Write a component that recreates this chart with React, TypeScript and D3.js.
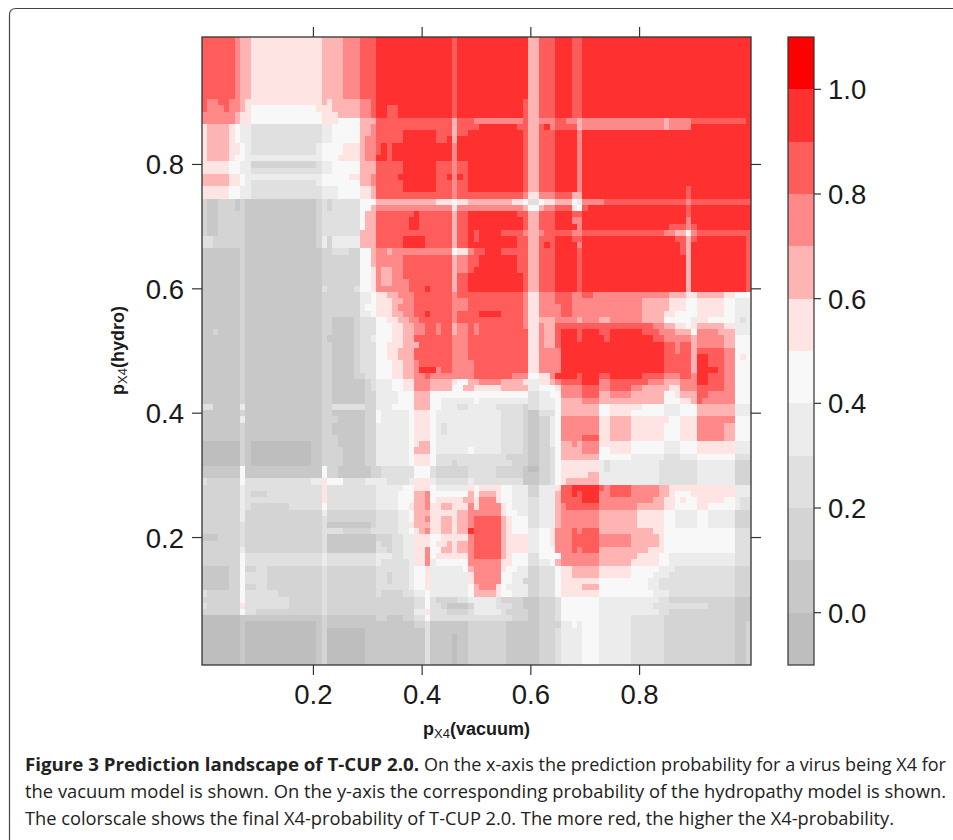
import React from "react";
import * as d3 from "d3";

// Probability bins of the colour key and the colour of each bin
const levelBreaks = [-0.1, 0, 0.1, 0.2, 0.3, 0.4, 0.5, 0.6, 0.7, 0.8, 0.9, 1.0, 1.1];
const levelColors = ["#bebebe", "#c8c8c8", "#d4d4d4", "#e0e0e0", "#ececec", "#f8f8f8", "#ffe4e4", "#ffb4b4", "#ff8888", "#ff5c5c", "#ff3030", "#ff0000"];
const xTicks = [0.2, 0.4, 0.6, 0.8];
const yTicks = [0.2, 0.4, 0.6, 0.8];
const keyTicks = [0, 0.2, 0.4, 0.6, 0.8, 1.0];

// Grid of the landscape: p = 0.00 ... 1.00 in both directions (top row is hydro = 1.00).
// Each entry: [rows it repeats for, "bin.firstColumn ..."] with the bin number in hex.
const landscapeLeft: [number, string][] = [
  [10, "9.0 8.6 7.7 6.9 7.22 8.26 9.29 a.32 9.46 a.47"],
  [1, "9.0 8.1 9.3 8.5 7.7 6.8 7.22 6.23 7.24 8.29 9.31 a.32 9.46 a.47"],
  [1, "9.0 8.1 9.4 8.5 7.7 6.8 5.9 6.21 7.24 8.29 9.31 a.32 9.34 a.36 9.46 a.47"],
  [1, "8.0 7.6 6.7 5.9 6.22 7.25 8.29 9.31 a.32 9.34 a.36 9.46 a.47"],
  [1, "8.0 7.6 6.7 5.9 6.22 5.25 7.29 9.32 7.46 9.47"],
  [1, "6.0 7.1 6.5 5.6 4.7 3.9 4.22 5.24 7.29 8.31 9.32 7.46 9.47"],
  [1, "6.0 7.1 6.5 5.6 4.7 3.9 4.22 5.24 7.29 8.31 9.32 a.37 9.43 7.46 9.47 a.49"],
  [1, "6.0 7.1 6.5 5.6 4.7 3.9 4.22 5.24 7.29 8.30 9.32 a.37 9.43 a.45 7.46 a.47"],
  [2, "6.0 7.1 6.5 5.7 4.8 3.9 4.21 5.22 6.26 7.29 8.30 9.32 a.33 9.34 a.35 8.46 a.47"],
  [1, "6.0 7.1 6.5 5.6 4.8 4.9 4.21 5.22 6.25 7.29 8.30 a.32 9.34 a.35 8.46 a.47"],
  [1, "6.0 5.5 4.7 2.9 3.21 4.22 5.24 7.29 9.32 a.37 9.43 8.46 9.47 a.49"],
  [1, "6.0 5.5 4.7 3.9 4.22 5.24 7.29 9.32 a.37 9.43 8.46 9.47 a.49"],
  [1, "7.0 6.5 5.7 4.8 5.22 6.27 7.29 8.31 9.32 a.36 9.43 a.45 8.46 a.47 9.48 a.49"],
  [1, "7.0 6.5 5.7 4.8 3.9 4.21 5.22 7.29 8.31 9.32 a.37 9.43 8.46 9.47 a.49"],
  [1, "6.0 5.5 4.7 3.9 4.22 5.25 6.29 7.31 9.32 a.37 9.43 8.46 9.47 a.49"],
  [1, "6.0 5.5 4.7 3.9 4.22 5.25 6.29 7.31 9.32 8.46 9.47"],
  [1, "2.0 1.1 2.3 1.6 2.7 1.8 2.21 3.22 2.23 3.24 5.29 7.32 6.43 5.46 6.47 7.49"],
  [1, "2.0 1.1 2.3 1.6 2.7 1.8 2.21 3.22 2.23 3.24 5.29 7.31 8.32 6.46 8.47"],
  [1, "2.0 1.1 2.3 1.8 2.21 3.22 5.29 7.30 9.32 a.39 9.40 7.46 9.47 a.49"],
  [2, "2.0 1.1 2.3 1.8 2.21 3.22 5.29 7.30 9.32 a.38 9.40 7.46 9.47 a.49"],
  [1, "2.0 1.1 2.3 1.8 2.21 3.22 7.29 9.32 7.46 9.47 a.49"],
  [2, "3.0 2.2 1.8 2.21 4.22 2.23 4.24 7.29 9.32 a.37 9.41 7.46 9.47 a.49"],
  [1, "1.0 2.7 1.8 2.22 3.24 2.27 5.29 7.31 8.32 7.34 8.35 5.46 6.47 8.49"],
  [2, "1.0 2.7 1.8 2.22 5.29 7.31 8.32 9.37 7.46 8.47 9.49"],
  [1, "1.0 2.7 1.8 2.22 5.29 6.31 8.32 7.33 8.35 9.37 7.46 8.47 9.49"],
  [1, "1.0 2.7 1.8 2.22 5.29 6.31 8.32 7.33 8.35 9.37 7.46 9.47 a.49"],
  [1, "1.0 2.7 1.8 2.22 5.29 6.31 8.32 7.33 8.35 9.38 7.46 9.47 a.49"],
  [1, "1.0 2.7 1.8 3.22 2.23 3.28 5.29 6.31 8.32 9.38 a.41 9.42 7.46 9.47 a.49"],
  [1, "1.0 2.7 1.8 2.22 4.29 5.31 6.32 7.34 8.36 9.39 8.46 9.47"],
  [1, "1.0 2.7 1.8 2.22 4.29 5.31 6.32 7.35 8.37 9.39 8.46 8.47 9.49"],
  [1, "1.0 2.7 1.8 2.22 4.29 5.30 6.32 7.35 8.36 9.39 8.46 8.47 9.49"],
  [1, "1.0 2.7 1.8 2.22 4.29 5.31 6.32 7.35 8.37 9.39 a.41 9.42 8.46 9.47"],
  [1, "1.0 2.7 1.8 2.22 1.24 2.28 3.29 5.32 6.34 7.36 8.38 9.40 8.46 9.47"],
  [1, "1.0 2.7 1.8 2.22 1.24 2.28 3.29 5.32 6.35 7.37 8.39 9.41 8.43 9.44 7.46 8.47 9.49"],
  [1, "1.0 2.2 1.3 2.7 1.8 2.22 1.24 2.28 3.29 5.32 6.35 7.37 8.39 9.41 8.43 9.44 7.46 8.47 9.49"],
  [1, "1.0 2.7 1.8 2.22 1.23 2.28 3.29 4.31 5.32 6.35 7.37 9.39 8.46 9.49"],
  [1, "1.0 2.7 1.8 2.22 1.24 2.28 3.29 5.32 6.34 7.37 9.40 8.46 9.49"],
  [2, "1.0 2.7 1.8 2.22 1.24 2.28 3.29 5.32 6.34 7.36 9.39 8.46 9.49"],
  [1, "1.0 2.7 1.8 2.22 1.24 2.28 3.29 5.32 6.35 7.37 8.39 9.40 8.46"],
  [1, "1.0 2.7 1.8 2.22 1.24 2.28 3.29 5.32 6.35 7.37 8.39 a.40 8.43 9.44 8.46"],
  [1, "1.0 2.7 1.8 2.22 1.24 2.28 3.30 5.32 6.35 7.37 8.39 9.41 8.42"],
  [1, "1.0 2.7 1.8 2.22 1.24 2.30 3.31 4.32 5.35 6.37 8.39 7.42 6.46 5.47 7.49"],
  [1, "1.0 2.7 1.8 2.22 1.24 2.30 3.31 4.32 5.35 6.37 8.39 7.42 5.46 7.48"],
  [1, "1.0 2.7 1.8 2.22 1.24 2.30 4.32 5.36 7.39 5.42"],
  [1, "1.0 2.7 1.8 2.22 1.24 2.30 4.32 5.36 7.39 5.42 4.44"],
  [1, "3.0 1.2 4.7 1.8 2.22 3.24 2.30 4.32 5.35 7.39 5.42 4.44 3.47 4.49"],
  [1, "1.0 2.7 1.8 2.22 1.24 2.30 5.32 4.33 5.38 6.39 5.42 4.43"],
  [1, "1.0 4.7 1.8 2.22 1.25 2.30 5.32 4.33 5.38 6.39 5.42 4.43"],
  [2, "1.0 2.7 1.8 2.22 1.24 2.30 4.32 5.38 6.39 5.42 4.43 3.44 4.45"],
  [1, "1.0 2.7 1.8 2.22 1.25 2.30 4.32 5.38 6.39 5.42 4.43"],
  [1, "0.0 2.7 1.8 0.9 1.20 2.22 1.25 2.30 4.32 5.38 6.39 7.40 5.42 4.43"],
  [1, "0.0 2.7 1.8 0.9 1.20 2.22 1.26 2.30 4.32 5.38 7.39 5.42 4.43 5.49 4.50"],
  [1, "0.0 2.7 1.8 0.9 1.20 2.22 1.26 2.30 4.32 5.38 6.39 5.42 3.43"],
  [1, "0.0 2.7 1.8 0.9 1.20 2.22 1.26 2.30 4.32 5.38 6.39 5.42 3.43 2.46 3.47"],
  [2, "1.0 5.7 1.8 5.22 2.23 1.25 2.31 3.33 5.39 3.42 2.43 3.49 2.50"],
  [1, "3.0 2.1 5.7 3.8 4.20 6.22 5.23 3.26 4.30 3.34 4.38 6.39 4.42 3.43 4.49"],
  [1, "2.0 4.7 3.8 6.22 3.23 4.32 5.37 6.39 5.42 4.43 6.49"],
  [1, "2.0 4.7 3.8 2.9 3.12 6.22 3.23 4.32 5.36 7.39 8.41 5.42 7.49"],
  [1, "2.0 4.7 3.8 6.22 3.23 4.32 5.36 7.39 8.41 5.42 6.43 7.48"],
  [1, "2.0 4.7 3.8 2.9 3.16 5.22 3.23 4.32 5.36 6.38 7.39 8.41 6.42 7.44 6.46 8.49"],
  [1, "2.0 4.7 2.8 4.22 2.23 3.32 4.36 5.38 7.39 6.42 7.47 8.49"],
  [1, "2.0 4.7 2.8 3.22 2.23 3.32 4.36 5.38 7.39 8.41 6.42 7.44 6.46 7.47 8.49"],
  [1, "2.0 3.7 2.8 3.22 1.23 2.31 3.32 4.36 6.38 7.39 6.42 7.44 6.46 7.47 8.49"],
  [1, "2.0 3.7 2.8 3.22 3.23 2.26 3.31 4.36 5.38 6.39 7.40 8.41 6.42 7.44 6.46 7.47 a.49"],
  [1, "1.0 2.3 3.7 2.8 3.22 1.23 2.32 3.35 4.37 6.39 5.42 6.44 8.49"],
  [1, "2.0 3.7 2.8 3.22 1.23 3.32 2.33 3.35 4.37 6.39 5.42 6.43 7.45 6.46 7.47 8.49"],
  [1, "2.0 4.7 2.8 3.22 1.23 3.32 2.34 3.35 4.37 6.39 8.41 5.42 7.44 6.46 7.47 8.49"],
  [1, "2.0 5.7 3.8 4.22 3.23 4.32 3.35 4.37 6.39 8.41 5.42 6.43 8.49"],
  [1, "2.0 5.7 3.8 4.22 3.23 4.32 3.33 4.38 6.39 8.41 4.42 5.43 8.49"],
  [1, "1.0 2.5 5.7 2.8 3.10 2.12 3.22 2.23 3.32 4.38 5.39 6.41 4.42 5.48 7.49"],
  [2, "1.0 2.5 5.7 3.8 2.12 3.22 2.23 3.32 2.34 3.35 4.38 5.39 6.41 4.42 6.49"],
  [1, "1.0 2.5 5.7 2.8 3.10 2.12 3.22 2.23 3.32 4.38 5.39 6.41 4.42 5.49"],
  [1, "3.0 2.1 5.7 3.8 2.14 3.22 2.23 3.32 2.33 3.37 4.39 5.41 4.42 5.49"],
  [1, "2.0 5.7 3.8 2.16 3.22 2.23 3.39 5.41 3.42 2.43 3.47 4.49"],
  [1, "3.0 2.1 6.7 3.8 2.16 3.22 2.23 3.39 5.41 3.42 2.44 1.45 2.49"],
  [1, "2.0 5.7 3.8 2.10 3.22 2.23 4.39 6.41 3.42 2.45 3.49"],
  [1, "0.0 1.7 2.22 1.23 2.32 1.34 2.37 3.39 5.41 3.42"],
  [1, "0.0 1.7 0.8 1.21 2.22 1.23 2.39 3.41 1.42 2.49"],
  [1, "0.0 1.7 0.8 1.21 2.22 0.23 1.30 3.41 1.42 2.49"],
  [5, "0.0 1.7 0.8 1.21 2.22 0.23 1.30 3.41 1.42 0.46 1.47 2.49"],
];

const landscapeRight: [number, string][] = [
  [10, "a.50 7.60 9.62 a.65 9.68 a.70"],
  [3, "a.50 9.59 7.60 9.62 a.65 9.68 a.70"],
  [1, "8.50 9.59 7.60 8.62 9.65 8.67 7.69 8.70 7.85 8.86 9.90 a.100"],
  [1, "9.50 a.51 9.58 7.60 9.62 a.63 8.64 9.65 7.69 8.70 7.85 8.86 a.90"],
  [9, "a.50 9.59 7.60 9.62 a.65 8.69 a.70"],
  [1, "a.50 9.59 7.60 9.62 a.65 8.69 a.70 9.89 a.90"],
  [1, "9.50 8.59 6.60 8.62 9.65 7.68 a.70 9.89 a.90"],
  [1, "7.50 6.57 5.59 3.60 5.62 6.63 7.65 5.68 4.69 8.70 9.74 8.89 9.90"],
  [1, "8.50 7.59 5.60 7.62 8.63 9.65 6.68 5.69 9.70 a.71 9.89 a.90"],
  [1, "a.50 9.58 7.60 9.62 a.65 9.68 a.70 9.89 a.90"],
  [1, "a.50 9.59 7.60 9.62 a.65 8.68 a.70 8.89 a.90"],
  [1, "a.50 9.59 7.60 9.62 a.65 8.69 a.70 9.86 8.89 9.90 a.91"],
  [1, "9.50 a.51 9.55 8.59 7.60 8.62 9.63 8.68 9.70 8.85 7.87 5.89 8.90 9.91"],
  [1, "9.50 a.51 9.58 7.60 9.62 a.65 9.68 a.70 9.87 7.89 9.90 a.91 9.100"],
  [1, "a.50 9.58 7.60 9.62 a.63 9.64 a.65 8.69 a.70 9.88 7.89 a.90 9.100"],
  [1, "9.50 a.52 9.55 7.60 9.62 a.65 9.69 a.70 9.88 7.89 a.90 9.100"],
  [2, "9.50 a.51 9.58 7.60 9.62 a.65 9.69 a.70 7.89 a.90 9.100"],
  [1, "a.50 9.58 7.60 9.62 a.65 9.69 a.70 7.89 a.90 9.100"],
  [3, "a.50 9.59 7.60 9.62 a.65 9.69 a.70 7.89 a.90 9.100"],
  [1, "9.50 8.59 6.60 8.62 9.65 8.68 9.70 8.72 7.86 6.89 7.91 6.96 5.98"],
  [1, "9.50 8.59 6.60 8.62 9.65 8.68 7.81 6.86 5.89 6.91 5.96 4.98"],
  [1, "9.50 8.59 6.60 8.62 9.66 8.68 7.81 6.86 5.89 6.91 5.96 4.98"],
  [1, "9.50 a.51 9.55 8.59 6.60 8.62 9.66 8.68 7.81 6.85 5.87 6.91 5.96 4.98"],
  [1, "9.50 8.59 6.60 7.62 8.65 7.69 8.70 7.73 8.75 7.81 5.85 4.90 6.91 5.93 4.98 3.99 4.100"],
  [1, "8.50 9.51 8.59 6.60 8.62 7.63 9.65 8.83 7.85 6.87 5.89 6.90 7.91 6.96 4.98"],
  [1, "8.50 9.51 6.60 8.62 7.63 9.65 a.66 9.69 a.70 9.73 a.75 9.81 8.84 7.87 5.90 8.91 7.95 4.98"],
  [1, "9.50 6.60 8.62 7.63 9.65 a.66 9.69 a.70 9.74 a.75 9.83 8.85 7.90 8.91 7.96 5.98"],
  [1, "9.50 6.60 8.62 7.63 9.65 a.66 9.85 8.87 9.88 7.90 8.91 7.96 5.98"],
  [1, "9.50 6.60 8.62 a.66 9.85 8.87 9.88 7.90 9.91 8.96 5.98"],
  [1, "9.50 6.60 8.62 a.66 9.85 7.90 a.91 9.93 8.96 5.98 6.99 5.100"],
  [1, "9.50 6.60 8.62 a.66 9.85 7.90 a.91 9.93 8.96 5.98"],
  [1, "9.50 6.60 8.62 a.66 9.85 7.90 a.91 9.95 8.96 5.98"],
  [1, "9.50 8.57 5.60 6.62 8.64 a.65 9.69 a.70 9.73 a.75 9.81 8.85 9.88 8.90 a.91 9.93 8.96 5.98"],
  [1, "7.50 8.51 7.55 6.59 4.60 6.62 7.64 8.65 9.66 a.70 8.73 9.75 8.82 7.85 8.88 a.91 9.93 8.96 5.98"],
  [1, "6.50 7.55 4.60 5.62 6.65 8.66 9.70 8.73 9.75 8.79 7.81 6.86 8.88 9.91 8.96 5.98"],
  [1, "5.50 3.60 4.62 5.64 8.66 9.70 7.73 8.75 7.79 5.85 6.87 7.88 9.91 8.93 5.98"],
  [1, "5.50 4.51 3.60 4.62 5.65 7.66 8.70 7.73 5.85 6.88 7.90 9.91 8.92 5.98"],
  [1, "4.50 3.54 2.59 3.60 4.62 5.65 7.66 5.73 6.75 5.81 4.85 5.88 7.91 4.98"],
  [1, "4.50 3.55 2.59 1.60 3.62 5.65 7.66 5.73 6.75 5.79 4.85 5.88 7.91 4.98"],
  [1, "4.50 3.55 2.59 1.60 2.62 4.64 5.65 8.66 6.73 7.75 6.79 5.86 6.88 8.91 5.98"],
  [2, "4.50 3.55 2.59 1.60 2.62 4.64 5.65 8.66 6.73 7.75 6.79 5.85 6.88 8.91 7.96 5.98"],
  [1, "4.50 3.55 2.59 1.60 2.62 4.64 5.65 8.66 9.70 6.73 7.75 6.79 5.85 6.88 8.91 7.96 5.98"],
  [1, "4.50 3.55 2.59 1.60 2.62 4.64 5.65 7.66 8.68 7.69 8.70 6.73 5.79 4.85 5.88 6.91 4.98"],
  [1, "4.50 3.55 2.59 1.60 2.62 3.64 5.65 7.66 8.70 5.73 6.75 5.79 4.85 5.88 6.91 4.98"],
  [1, "3.50 2.56 1.60 2.62 3.64 5.65 7.66 5.73 4.79 3.85 4.88 5.91 3.98"],
  [1, "3.50 2.57 1.60 2.62 3.64 5.65 6.66 4.73 3.74 4.75 3.84 4.91 2.98"],
  [1, "3.50 2.54 1.59 0.60 2.62 3.64 5.65 6.66 4.73 3.74 4.75 3.84 4.91 2.98"],
  [1, "3.50 2.54 1.59 2.62 3.64 5.65 6.66 7.71 4.73 3.84 4.91 2.98"],
  [1, "3.50 1.59 2.62 3.64 5.65 6.66 7.67 4.73 3.84 4.91 2.98"],
  [1, "5.50 6.51 5.55 4.57 2.60 4.62 6.65 9.66 a.68 9.73 8.74 9.75 8.79 7.84 6.86 4.98"],
  [1, "5.50 7.51 6.54 5.55 4.57 2.60 4.62 7.65 9.66 a.68 9.69 a.70 8.73 9.75 8.79 7.84 6.86 5.87 6.90 4.98"],
  [1, "6.50 8.51 6.54 5.55 4.57 3.60 4.62 7.65 9.66 a.70 8.73 7.83 6.85 5.87 6.88 5.89 6.91 5.96 4.98 3.99"],
  [1, "6.50 8.51 6.55 5.56 4.57 3.60 4.62 7.65 8.66 9.67 8.73 7.80 6.85 5.87 6.91 5.93 4.98 3.99"],
  [1, "8.50 6.55 5.56 4.58 3.60 4.62 7.65 8.66 7.73 6.80 5.85 4.87 5.91 4.93 2.98"],
  [2, "9.50 7.55 6.56 5.57 3.60 4.62 7.65 8.66 7.73 6.80 5.85 4.87 5.91 4.93 2.98"],
  [1, "9.50 7.55 6.56 5.57 4.60 5.62 6.64 8.65 9.68 8.69 9.70 7.73 6.83 5.85 3.98"],
  [2, "9.50 7.55 6.56 4.60 5.62 6.64 8.65 9.68 8.73 7.79 6.84 5.85 3.98"],
  [1, "9.50 7.55 6.56 4.60 5.62 8.65 9.68 8.69 9.70 7.73 6.82 5.85 3.98"],
  [1, "9.50 7.55 6.56 5.57 3.60 5.62 8.66 7.73 6.80 5.84 4.86 3.98"],
  [1, "8.50 6.55 5.57 3.60 4.62 5.64 7.65 8.66 7.73 6.79 5.84 4.86 3.98"],
  [1, "8.50 6.55 5.56 4.58 2.60 3.62 5.65 6.66 7.68 6.73 5.79 4.84 3.87 2.98"],
  [1, "8.50 5.55 4.57 2.60 3.62 5.65 6.66 7.68 6.73 5.79 4.83 3.86 2.98"],
  [1, "8.50 5.55 4.57 2.59 3.62 5.65 6.66 5.73 4.82 3.84 2.98"],
  [1, "7.50 8.51 6.54 5.55 4.56 2.60 3.62 5.65 6.66 7.70 5.73 4.82 3.84 2.98"],
  [1, "7.50 6.54 5.55 4.57 2.60 3.62 5.65 6.66 5.73 4.83 3.86 2.98"],
  [1, "4.50 3.54 2.55 1.59 2.62 3.65 5.66 4.73 3.84 2.86 1.98"],
  [1, "4.50 3.54 2.57 1.59 2.62 3.65 5.66 4.73 3.83 2.93 1.98"],
  [1, "4.50 3.55 2.56 1.60 2.62 3.65 5.66 4.73 3.84 2.86 1.98"],
  [1, "3.50 2.57 1.60 2.62 3.65 5.66 4.73 3.79 2.85 1.98"],
  [1, "2.50 1.56 2.62 4.66 5.68 4.69 5.70 4.73 3.79 2.85 1.98 2.100"],
  [6, "2.50 1.56 2.62 3.65 4.66 5.70 4.73 3.79 2.85 1.98 2.100"],
];

const captionBold = "Figure 3 Prediction landscape of T-CUP 2.0.";
const captionRest = "On the x-axis the prediction probability for a virus being X4 for";
const captionLine2 = "the vacuum model is shown. On the y-axis the corresponding probability of the hydropathy model is shown.";
const captionLine3 = "The colorscale shows the final X4-probability of T-CUP 2.0. The more red, the higher the X4-probability.";

type Run = { row: number; start: number; end: number; level: number };

function expand(table: [number, string][], limitStart: number, limitEnd: number): Run[] {
  const runs: Run[] = [];
  let row = 0;
  for (const [repeat, text] of table) {
    const tokens = text.split(" ").map((t) => {
      const [lv, col] = t.split(".");
      return { level: parseInt(lv, 16), col: +col };
    });
    for (let r = 0; r < repeat; r++) {
      tokens.forEach((t, i) => {
        const end = Math.min(i + 1 < tokens.length ? tokens[i + 1].col : limitEnd, limitEnd);
        const start = Math.max(t.col, limitStart);
        if (start < end) runs.push({ row, start, end, level: t.level });
      });
      row++;
    }
  }
  return runs;
}

const FONT = "'Liberation Sans', Arial, sans-serif";
const INK = "#333";

export default function App() {
  const plot = { left: 202, right: 751, top: 37, bottom: 665 };
  const key = { left: 788, right: 814 };
  // cells of width 0.01 centred on 0, 0.01, ... 1
  const x = d3.scaleLinear().domain([-0.005, 1.005]).range([plot.left, plot.right]);
  const y = d3.scaleLinear().domain([-0.005, 1.005]).range([plot.bottom, plot.top]);
  const keyY = d3.scaleLinear().domain([-0.1, 1.1]).range([plot.bottom, plot.top]);
  const colour = d3.scaleOrdinal<number, string>().domain(d3.range(levelColors.length)).range(levelColors);

  const runs = [...expand(landscapeLeft, 0, 50), ...expand(landscapeRight, 50, 101)];
  const tickSize = 10;

  return (
    <svg width={953} height={840} viewBox="0 0 953 840" style={{ position: "absolute", left: 0, top: 0, display: "block" }}>
      <rect width={953} height={840} fill="#fff" />
      <path d="M9.5,840 V15 Q9.5,8.5 16,8.5 H953" fill="none" stroke="#444" strokeWidth={1.2} />

      <g shapeRendering="crispEdges">
        {runs.map((d, i) => {
          const v0 = (d.start - 0.5) / 100;
          const v1 = (d.end - 0.5) / 100;
          const h0 = (100 - d.row - 0.5) / 100;
          const h1 = (100 - d.row + 0.5) / 100;
          return (
            <rect key={i} x={x(v0)} y={y(h1)} width={x(v1) - x(v0)} height={y(h0) - y(h1)} fill={colour(d.level)} />
          );
        })}
      </g>
      <rect x={plot.left} y={plot.top} width={plot.right - plot.left} height={plot.bottom - plot.top} fill="none" stroke={INK} strokeWidth={1.3} />

      {xTicks.map((t) => (
        <g key={t}>
          <line x1={x(t)} x2={x(t)} y1={plot.bottom} y2={plot.bottom + tickSize} stroke={INK} strokeWidth={1.2} />
          <line x1={x(t)} x2={x(t)} y1={plot.top} y2={plot.top - tickSize} stroke={INK} strokeWidth={1.2} />
          <text x={x(t)} y={704} textAnchor="middle" fontFamily={FONT} fontSize={27.5} fill="#1a1a1a">{t.toFixed(1)}</text>
        </g>
      ))}
      {yTicks.map((t) => (
        <g key={t}>
          <line x1={plot.left} x2={plot.left - tickSize} y1={y(t)} y2={y(t)} stroke={INK} strokeWidth={1.2} />
          <line x1={plot.right} x2={plot.right + tickSize} y1={y(t)} y2={y(t)} stroke={INK} strokeWidth={1.2} />
          <text x={184} y={y(t) + 10} textAnchor="end" fontFamily={FONT} fontSize={27.5} fill="#1a1a1a">{t.toFixed(1)}</text>
        </g>
      ))}

      <text x={423} y={735} fontFamily={FONT} fontSize={18} fontWeight={700} fill="#1a1a1a">
        p<tspan fontSize={13} dy={3} fontWeight={400}>X4</tspan><tspan dy={-3}>(vacuum)</tspan>
      </text>
      <text transform="translate(124,395) rotate(-90)" fontFamily={FONT} fontSize={18} fontWeight={700} fill="#1a1a1a">
        p<tspan fontSize={13} dy={3} fontWeight={400}>X4</tspan><tspan dy={-3}>(hydro)</tspan>
      </text>

      <g shapeRendering="crispEdges">
        {levelColors.map((c, i) => (
          <rect key={c} x={key.left} width={key.right - key.left} y={keyY(levelBreaks[i + 1])} height={keyY(levelBreaks[i]) - keyY(levelBreaks[i + 1])} fill={c} />
        ))}
      </g>
      <rect x={key.left} y={plot.top} width={key.right - key.left} height={plot.bottom - plot.top} fill="none" stroke={INK} strokeWidth={1.2} />
      {keyTicks.map((t) => (
        <g key={t}>
          <line x1={key.right} x2={key.right + 7} y1={keyY(t)} y2={keyY(t)} stroke={INK} strokeWidth={1.2} />
          <text x={828} y={keyY(t) + 10} fontFamily={FONT} fontSize={27.5} fill="#1a1a1a">{t.toFixed(1)}</text>
        </g>
      ))}

      <g fontFamily="'Open Sans', 'Noto Sans', sans-serif" fontSize={18.5} fill="#222">
        <text x={25} y={771} fontWeight={700} textLength={394} lengthAdjust="spacingAndGlyphs">{captionBold}</text>
        <text x={424} y={771} textLength={522} lengthAdjust="spacingAndGlyphs">{captionRest}</text>
        <text x={25} y={798} textLength={921} lengthAdjust="spacingAndGlyphs">{captionLine2}</text>
        <text x={25} y={825} textLength={869} lengthAdjust="spacingAndGlyphs">{captionLine3}</text>
      </g>
    </svg>
  );
}
